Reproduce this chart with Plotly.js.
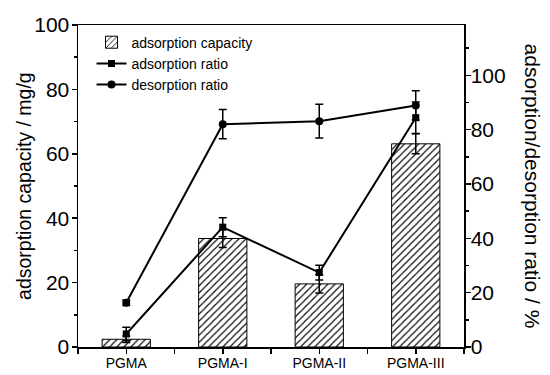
<!DOCTYPE html>
<html>
<head>
<meta charset="utf-8">
<script src="https://cdn.plot.ly/plotly-3.0.1.min.js"></script>
<style>html,body{margin:0;padding:0;background:#fff;}#chart{width:550px;height:375px;}</style>
</head>
<body>
<div id="chart"></div>
<script>
var categories = ["PGMA", "PGMA-I", "PGMA-II", "PGMA-III"];
var capacity = [2.4, 33.7, 19.6, 63.1];
var capacityErr = [1.0, 2.8, 2.8, 3.1];
var adsorptionRatio = [4.8, 44.1, 27.4, 84.4];
var adsorptionErr = [2.5, 3.5, 2.7, 5.8];
var desorptionRatio = [16.3, 82.0, 83.1, 88.9];
var desorptionErr = [1.0, 5.4, 6.2, 5.4];
var leftTicks = [0, 20, 40, 60, 80, 100];
var rightTicks = [0, 20, 40, 60, 80, 100];

var xs = categories.map(function (c, i) { return i; });
var FONT = "Liberation Sans, Arial, sans-serif";

var traces = [
  {
    type: "bar", name: "adsorption capacity", x: xs, y: capacity, width: 0.5,
    marker: { color: "#ffffff", line: { color: "#000", width: 1 },
      pattern: { shape: "/", fgcolor: "#000", bgcolor: "#fff", size: 5, solidity: 0.22 } },
    error_y: { type: "data", array: capacityErr, visible: true, color: "#000", thickness: 1.5, width: 4 },
    yaxis: "y"
  },
  {
    type: "scatter", mode: "lines+markers", name: "adsorption ratio", x: xs, y: adsorptionRatio,
    line: { color: "#000", width: 2 }, marker: { symbol: "square", size: 7, color: "#000" },
    error_y: { type: "data", array: adsorptionErr, visible: true, color: "#000", thickness: 1.5, width: 4 },
    yaxis: "y2"
  },
  {
    type: "scatter", mode: "lines+markers", name: "desorption ratio", x: xs, y: desorptionRatio,
    line: { color: "#000", width: 2 }, marker: { symbol: "circle", size: 8, color: "#000" },
    error_y: { type: "data", array: desorptionErr, visible: true, color: "#000", thickness: 1.5, width: 4 },
    yaxis: "y2"
  }
];

var layout = {
  width: 550, height: 375,
  margin: { l: 78, r: 86, t: 25, b: 28 },
  paper_bgcolor: "#fff", plot_bgcolor: "#fff",
  font: { family: FONT, color: "#000" },
  showlegend: true,
  legend: { x: 0.035, y: 0.995, xanchor: "left", yanchor: "top", bgcolor: "rgba(0,0,0,0)",
    font: { size: 14, family: FONT }, tracegroupgap: 0, itemwidth: 30 },
  xaxis: {
    range: [-0.5, 3.5], tickmode: "array", tickvals: xs, ticktext: categories,
    showline: true, linecolor: "#000", linewidth: 1.5, mirror: true,
    ticks: "outside", ticklen: 5, tickwidth: 1.5, tickcolor: "#000",
    minor: { tick0: -0.5, dtick: 1, ticks: "outside", ticklen: 5, tickwidth: 1.5, tickcolor: "#000" },
    tickfont: { size: 14, family: FONT }, showgrid: false, zeroline: false,
    ticklabelstandoff: -2
  },
  yaxis: {
    range: [0, 100], tickmode: "array", tickvals: leftTicks,
    showline: true, linecolor: "#000", linewidth: 1.5,
    ticks: "outside", ticklen: 5, tickwidth: 1.5, tickcolor: "#000",
    minor: { dtick: 10, ticks: "outside", ticklen: 3, tickwidth: 1.5, tickcolor: "#000" },
    tickfont: { size: 21, family: FONT }, showgrid: false, zeroline: false,
    ticklabelstandoff: -2
  },
  yaxis2: {
    range: [0, 118.5], overlaying: "y", side: "right", tickmode: "array", tickvals: rightTicks,
    showline: true, linecolor: "#000", linewidth: 1.5,
    ticks: "outside", ticklen: 5, tickwidth: 1.5, tickcolor: "#000",
    minor: { dtick: 10, ticks: "outside", ticklen: 3, tickwidth: 1.5, tickcolor: "#000" },
    tickfont: { size: 21, family: FONT }, showgrid: false, zeroline: false,
    ticklabelstandoff: -4
  },
  annotations: [
    { text: "adsorption capacity / mg/g", textangle: -90, xref: "paper", yref: "paper",
      x: -0.14, y: 0.5, xanchor: "center", yanchor: "middle", showarrow: false,
      font: { size: 19.5, family: FONT, color: "#000" } },
    { text: "adsorption/desorption ratio / %", textangle: 90, xref: "paper", yref: "paper",
      x: 1.18, y: 0.5, xanchor: "center", yanchor: "middle", showarrow: false,
      font: { size: 21, family: FONT, color: "#000" } }
  ]
};

Plotly.newPlot("chart", traces, layout, { displayModeBar: false, staticPlot: true });
</script>
</body>
</html>
